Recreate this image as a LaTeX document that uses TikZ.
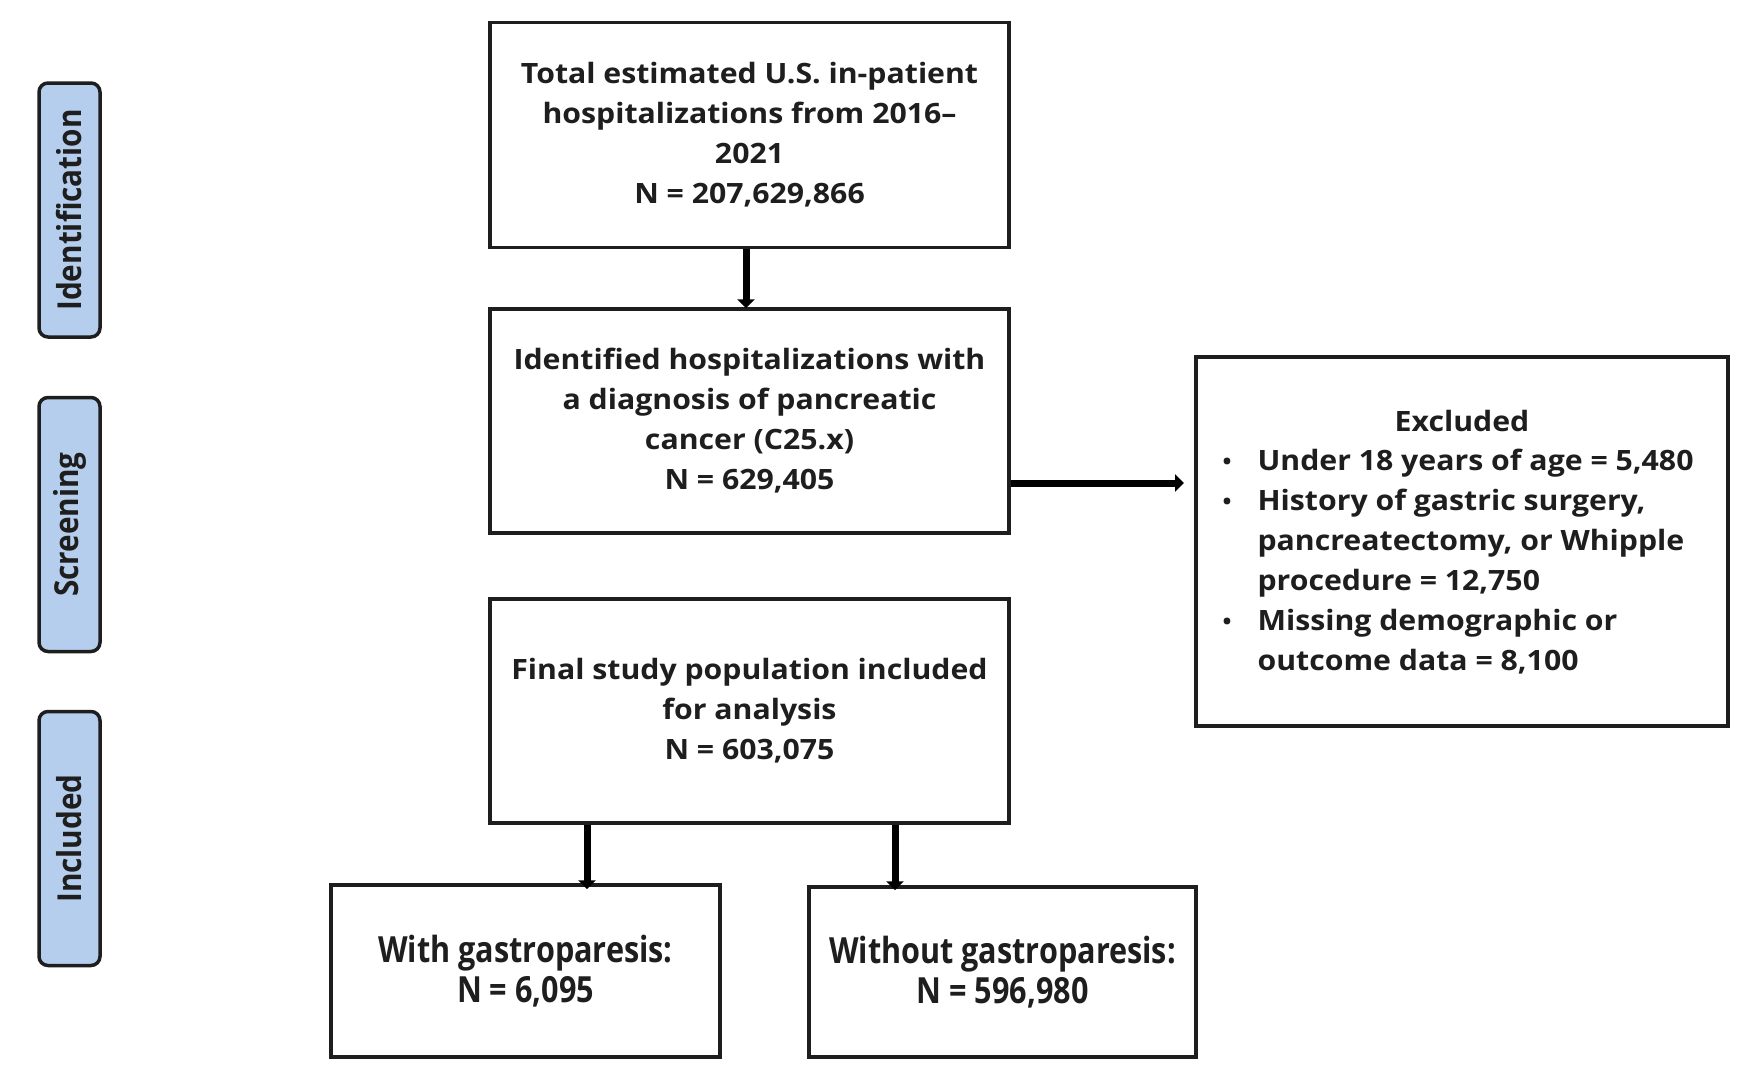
\documentclass[tikz,border=0pt]{standalone}
\usepackage{fontspec}
\setmainfont{Open Sans}
\newfontfamily\mainbold{Open Sans Bold}[FakeStretch=1.08]
\newfontfamily\narrowfont{Open Sans Bold}[FakeStretch=0.85]
\newfontfamily\sidefont{Open Sans Bold}[FakeStretch=0.9]
\usetikzlibrary{arrows.meta}
\definecolor{ink}{RGB}{30,30,30}
\definecolor{sidefill}{RGB}{182,206,237}
\tikzset{
  box/.style={draw=ink, line width=3.5pt, fill=white, inner sep=0pt},
  boxtext/.style={align=center, text=ink, font=\fontsize{28}{40}\selectfont\mainbold},
  narrowtext/.style={align=center, text=ink, font=\fontsize{36}{40}\selectfont\narrowfont},
  sidebox/.style={draw=ink, line width=3.5pt, fill=sidefill, rounded corners=9pt, minimum width=61pt, minimum height=254pt, inner sep=0pt},
  sidetext/.style={rotate=90, text=ink, font=\fontsize{33}{36}\selectfont\sidefont},
  arr/.style={draw=black, line width=7pt, -{Triangle[width=17pt,length=9pt]}},
}
\newcommand{\bul}{\makebox[36pt][l]{\hspace{1pt}\raisebox{1pt}{\fontsize{22}{22}\selectfont\textbullet}}}
\begin{document}
\begin{tikzpicture}[x=1pt,y=-1pt]
\useasboundingbox (0,0) rectangle (1756,1081);
\fill[white] (0,0) rectangle (1756,1081);

% side labels
\node[sidebox] (sid) at (69.5,210) {};
\node[sidetext] (sidt) at (sid.center) {Identification};
\node[sidebox] (sscr) at (69.5,524.5) {};
\node[sidetext] (sscrt) at (sscr.center) {Screening};
\node[sidebox] (sinc) at (69.5,838.5) {};
\node[sidetext] (sinct) at (sinc.center) {Included};

% main boxes
\node[box, minimum width=519pt, minimum height=225pt] (b1) at (749.5,135) {};
\node[boxtext] (b1t) at (b1.center) {Total estimated U.S. in-patient\\hospitalizations from 2016–\\2021\\N = 207,629,866};

\node[box, minimum width=519pt, minimum height=224pt] (b2) at (749.5,421) {};
\node[boxtext] (b2t) at (b2.center) {Identified hospitalizations with\\a diagnosis of pancreatic\\cancer (C25.x)\\N = 629,405};

\node[box, minimum width=519pt, minimum height=224pt] (b3) at (749.5,711) {};
\node[boxtext] (b3t) at (b3.center) {Final study population included\\for analysis\\N = 603,075};

\node[box, minimum width=532pt, minimum height=369pt] (ex) at (1462,541.5) {};
\node[boxtext] (exh) at (1462,421) {Excluded};
\node[boxtext, align=left, anchor=north west] (exl) at (1218,446) {%
\bul Under 18 years of age = 5,480\\
\bul History of gastric surgery,\\
\hspace*{36pt}pancreatectomy, or Whipple\\
\hspace*{36pt}procedure = 12,750\\
\bul Missing demographic or\\
\hspace*{36pt}outcome data = 8,100};

\node[box, minimum width=389pt, minimum height=172pt] (b4) at (525.5,971) {};
\node[narrowtext] (b4t) at (b4.center) {With gastroparesis:\\N = 6,095};

\node[box, minimum width=387pt, minimum height=170pt] (b5) at (1002.5,972) {};
\node[narrowtext] (b5t) at (b5.center) {Without gastroparesis:\\N = 596,980};

% connectors
\coordinate (c12) at (746,0);
\coordinate (cex) at (0,483);
\coordinate (exin) at (1184,483);
\coordinate (c4) at (587,0);
\coordinate (c5) at (895,0);
\draw[arr] (b1.south -| c12) -- ([yshift=-1pt]b2.north -| c12);
\draw[arr] (b2.east |- cex) -- (exin);
\draw[arr] (b3.south -| c4) -- ([yshift=-6pt]b4.north -| c4);
\draw[arr] (b3.south -| c5) -- ([yshift=-5pt]b5.north -| c5);
\end{tikzpicture}
\end{document}
